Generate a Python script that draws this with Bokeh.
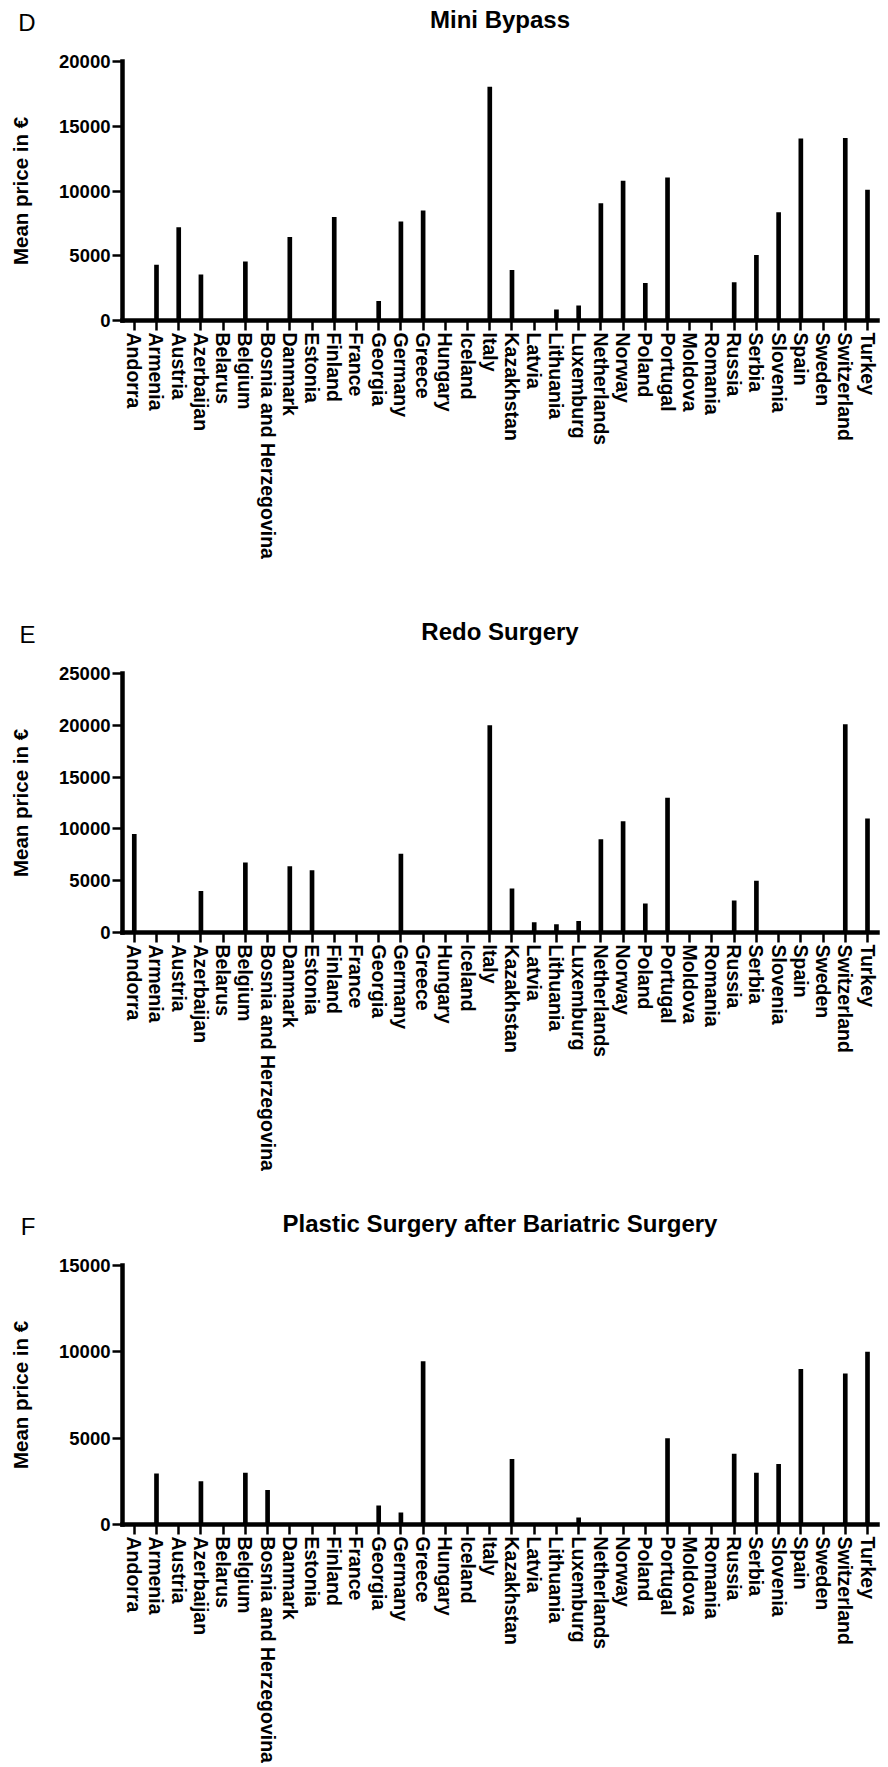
from bokeh.plotting import figure
from bokeh.layouts import column
from bokeh.models import Range1d, FixedTicker, Label
from bokeh.embed import file_html
from bokeh.resources import INLINE

countries = ["Andorra", "Armenia", "Austria", "Azerbaijan", "Belarus", "Belgium",
             "Bosnia and Herzegovina", "Danmark", "Estonia", "Finland", "France",
             "Georgia", "Germany", "Greece", "Hungary", "Iceland", "Italy",
             "Kazakhstan", "Latvia", "Lithuania", "Luxemburg", "Netherlands",
             "Norway", "Poland", "Portugal", "Moldova", "Romania", "Russia",
             "Serbia", "Slovenia", "Spain", "Sweden", "Switzerland", "Turkey"]

mini_bypass = [0, 4300, 7200, 3550, 0, 4550, 0, 6450, 0, 8000, 0, 1500, 7650, 8500,
               0, 0, 18050, 3900, 0, 850, 1150, 9050, 10800, 2900, 11050, 0, 0,
               2950, 5050, 8350, 14050, 0, 14100, 10100]

redo_surgery = [9500, 0, 0, 4000, 0, 6750, 0, 6400, 6000, 0, 0, 0, 7600, 0, 0, 0,
                20000, 4250, 1000, 800, 1100, 9000, 10750, 2800, 13000, 0, 0, 3100,
                5000, 0, 0, 0, 20100, 11000]

plastic_surgery = [0, 2950, 0, 2500, 0, 3000, 2000, 0, 0, 0, 0, 1100, 700, 9450, 0,
                   0, 0, 3800, 0, 0, 400, 0, 0, 0, 5000, 0, 0, 4100, 3000, 3500,
                   9000, 0, 8750, 10000]

panel_letters = ["D", "E", "F"]
panel_titles = ["Mini Bypass", "Redo Surgery", "Plastic Surgery after Bariatric Surgery"]
panel_values = [mini_bypass, redo_surgery, plastic_surgery]
panel_ymax = [20000, 25000, 15000]
y_label = "Mean price in €"

FONT = "Liberation Sans"
W = 888
LEFT, RIGHT = 122, 11
FRAME_W = W - LEFT - RIGHT
FRAME_H = 259
TOP = 12
HEADER_H = 49
X0, X1 = -0.53, len(countries) - 1 + 0.45


def make_header(letter, title):
    h = figure(width=W, height=HEADER_H,
               x_range=Range1d(0, FRAME_W), y_range=Range1d(0, HEADER_H),
               output_backend="svg", toolbar_location=None,
               x_axis_location=None,
               min_border_left=LEFT, min_border_right=RIGHT,
               min_border_top=0, min_border_bottom=0)
    h.outline_line_color = None
    h.grid.visible = False
    # panel letter drawn as the single tick label of a bare left axis
    tick_y = HEADER_H - 22
    ya = h.yaxis[0]
    ya.ticker = FixedTicker(ticks=[tick_y], minor_ticks=[])
    ya.major_label_overrides = {tick_y: letter}
    ya.axis_line_color = None
    ya.major_tick_line_color = None
    ya.minor_tick_line_color = None
    ya.major_tick_out = 0
    ya.major_tick_in = 0
    ya.major_label_standoff = 87
    ya.major_label_text_font = FONT
    ya.major_label_text_font_style = "normal"
    ya.major_label_text_font_size = "24px"
    ya.major_label_text_color = "black"
    h.add_layout(Label(x=FRAME_W / 2, y=HEADER_H - 18.5, text=title,
                       text_align="center", text_baseline="alphabetic",
                       text_font=FONT, text_font_style="bold",
                       text_font_size="24px", text_color="black"))
    return h


def make_panel(values, ymax, height):
    xs = list(range(len(countries)))
    p = figure(width=W, height=height,
               x_range=Range1d(X0, X1), y_range=Range1d(0, ymax),
               output_backend="svg", toolbar_location=None,
               min_border_left=LEFT, min_border_right=RIGHT,
               min_border_top=TOP, min_border_bottom=height - TOP - FRAME_H)
    p.outline_line_color = None
    p.grid.visible = False

    p.vbar(x=xs, top=values, width=0.21, color="black", line_color=None)

    ya = p.yaxis[0]
    ya.ticker = FixedTicker(ticks=list(range(0, ymax + 1, 5000)), minor_ticks=[])
    ya.axis_line_width = 4.5
    ya.axis_line_color = "black"
    ya.axis_line_cap = "square"
    ya.major_tick_line_width = 2.5
    ya.major_tick_line_color = "black"
    ya.major_tick_out = 10
    ya.major_tick_in = 0
    ya.minor_tick_out = 0
    ya.minor_tick_in = 0
    ya.major_label_text_font = FONT
    ya.major_label_text_font_style = "bold"
    ya.major_label_text_font_size = "18.5px"
    ya.major_label_text_color = "black"
    ya.major_label_standoff = 2
    ya.axis_label = y_label
    ya.axis_label_text_font = FONT
    ya.axis_label_text_font_style = "bold"
    ya.axis_label_text_font_size = "20.5px"
    ya.axis_label_text_color = "black"
    ya.axis_label_standoff = 24

    xa = p.xaxis[0]
    xa.ticker = FixedTicker(ticks=xs, minor_ticks=[])
    xa.major_label_overrides = {i: c for i, c in enumerate(countries)}
    xa.major_label_orientation = "vertical"
    xa.axis_line_width = 4.5
    xa.axis_line_color = "black"
    xa.axis_line_cap = "square"
    xa.major_tick_line_width = 2.5
    xa.major_tick_line_color = "black"
    xa.major_tick_out = 10
    xa.major_tick_in = 0
    xa.minor_tick_out = 0
    xa.minor_tick_in = 0
    xa.major_label_text_font = FONT
    xa.major_label_text_font_style = "bold"
    xa.major_label_text_font_size = "19.5px"
    xa.major_label_text_color = "black"
    xa.major_label_standoff = 2
    return p


heights = [563, 543, 514]
children = []
for letter, title, vals, ymax, hgt in zip(panel_letters, panel_titles, panel_values,
                                          panel_ymax, heights):
    children.append(make_header(letter, title))
    children.append(make_panel(vals, ymax, hgt))

layout = column(*children, spacing=0)
open("out.html", "w").write(file_html(layout, INLINE))
